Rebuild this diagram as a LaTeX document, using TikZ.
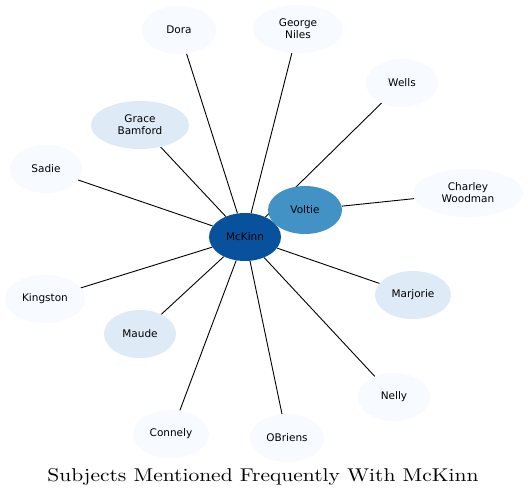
\documentclass[tikz,border=0pt]{standalone}
\usepackage{fontspec}
\newfontfamily\dejavu{DejaVu Sans}
\newfontfamily\lmten{lmroman10-regular.otf}
\usetikzlibrary{shapes.geometric,backgrounds}
\definecolor{cA}{HTML}{F7FBFF}
\definecolor{cB}{HTML}{DEEBF7}
\definecolor{cC}{HTML}{4292C6}
\definecolor{cD}{HTML}{08519C}
\tikzset{
  person/.style={ellipse, inner sep=0pt, font=\dejavu\fontsize{10.5}{12}\selectfont, align=center, text=black},
  lvA/.style={person, fill=cA},
  lvB/.style={person, fill=cB},
  lvC/.style={person, fill=cC},
  lvD/.style={person, fill=cD},
  link/.style={draw=black, line width=0.9pt}
}
\begin{document}
\begin{tikzpicture}[x=1pt,y=-1pt]
\useasboundingbox (0,0) rectangle (528,499);
\node[lvD, minimum width=72pt, minimum height=48pt] (mck) at (245,237) {McKinn};
\node[lvC, minimum width=74pt, minimum height=48pt] (vol) at (305,210) {Voltie};
\node[lvA, minimum width=74pt, minimum height=48pt] (dora) at (179,30) {Dora};
\node[lvA, minimum width=90pt, minimum height=48pt] (geo) at (298,29) {George\\Niles};
\node[lvA, minimum width=72pt, minimum height=48pt] (wells) at (402,83) {Wells};
\node[lvA, minimum width=110pt, minimum height=48pt] (char) at (468,193) {Charley\\Woodman};
\node[lvB, minimum width=98pt, minimum height=48pt] (grace) at (140,125) {Grace\\Bamford};
\node[lvA, minimum width=72pt, minimum height=48pt] (sadie) at (46,169) {Sadie};
\node[lvA, minimum width=80pt, minimum height=48pt] (king) at (45,299) {Kingston};
\node[lvB, minimum width=72pt, minimum height=48pt] (maude) at (140,334) {Maude};
\node[lvB, minimum width=76pt, minimum height=48pt] (marj) at (413,295) {Marjorie};
\node[lvA, minimum width=72pt, minimum height=48pt] (nelly) at (394,397) {Nelly};
\node[lvA, minimum width=76pt, minimum height=48pt] (conn) at (171,434) {Connely};
\node[lvA, minimum width=74pt, minimum height=48pt] (obr) at (287,438) {OBriens};
\node[inner sep=0pt] (title) at (263,477) {\resizebox{431pt}{\height}{\lmten\fontsize{18.5}{21}\selectfont Subjects Mentioned Frequently With McKinn}};
\begin{scope}[on background layer]
\fill[white] (0,0) rectangle (528,499);
\draw[link] (mck) -- (dora);
\draw[link] (mck) -- (geo);
\draw[link] (mck) -- (grace);
\draw[link] (mck) -- (sadie);
\draw[link] (mck) -- (king);
\draw[link] (mck) -- (maude);
\draw[link] (mck) -- (marj);
\draw[link] (mck) -- (nelly);
\draw[link] (mck) -- (conn);
\draw[link] (mck) -- (obr);
\draw[link] (mck) -- (vol);
\draw[link] (vol) -- (char);
\draw[link] (wells) -- (mck);
\end{scope}
\end{tikzpicture}
\end{document}
